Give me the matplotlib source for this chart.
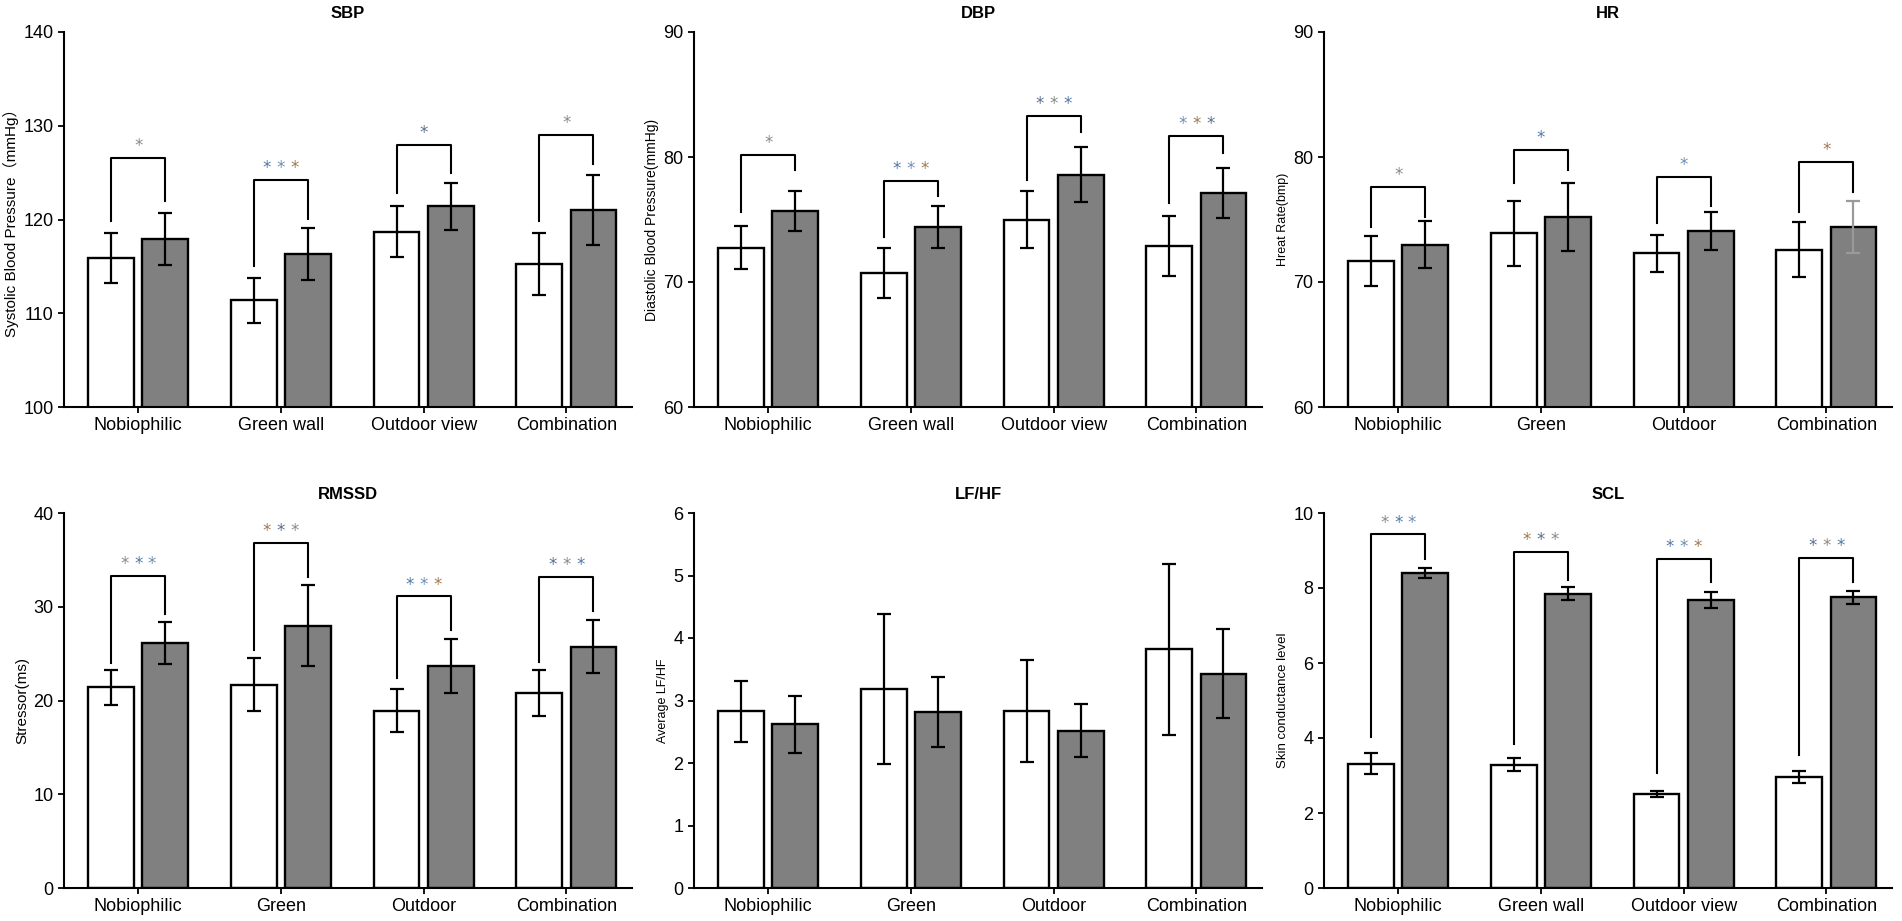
import matplotlib
matplotlib.use("Agg")
import matplotlib.pyplot as plt
import numpy as np

plt.rcParams['font.family'] = ['Liberation Sans', 'Noto Sans CJK SC', 'DejaVu Sans']

long_names = ["Nobiophilic", "Green wall", "Outdoor view", "Combination"]
short_names = ["Nobiophilic", "Green", "Outdoor", "Combination"]

# SBP
sbp_white = [115.9, 111.4, 118.7, 115.3]
sbp_white_err = [2.7, 2.4, 2.7, 3.3]
sbp_grey = [117.9, 116.3, 121.4, 121.0]
sbp_grey_err = [2.8, 2.8, 2.5, 3.7]
# bracket: top, left leg end, right leg end
sbp_brackets = [[126.6, 119.8, 122.0], [124.2, 115.0, 120.1], [128.0, 122.8, 125.0], [129.0, 119.8, 125.9]]
sbp_stars = [1, 3, 1, 1]

# DBP
dbp_white = [72.75, 70.7, 75.0, 72.9]
dbp_white_err = [1.7, 2.0, 2.3, 2.4]
dbp_grey = [75.7, 74.4, 78.6, 77.1]
dbp_grey_err = [1.6, 1.7, 2.2, 2.0]
dbp_brackets = [[80.2, 75.6, 79.0], [78.1, 73.6, 76.9], [83.3, 78.2, 82.0], [81.7, 76.3, 80.3]]
dbp_stars = [1, 3, 3, 3]

# HR
hr_white = [71.7, 73.9, 72.3, 72.6]
hr_white_err = [2.0, 2.6, 1.5, 2.2]
hr_grey = [73.0, 75.2, 74.1, 74.4]
hr_grey_err = [1.9, 2.7, 1.5, 2.1]
hr_brackets = [[77.6, 74.4, 75.2], [80.6, 77.9, 79.0], [78.4, 74.7, 76.1], [79.6, 75.6, 77.2]]
hr_stars = [1, 1, 1, 1]

# RMSSD
rmssd_white = [21.4, 21.7, 18.9, 20.8]
rmssd_white_err = [1.85, 2.8, 2.3, 2.5]
rmssd_grey = [26.1, 28.0, 23.7, 25.75]
rmssd_grey_err = [2.25, 4.3, 2.85, 2.85]
rmssd_brackets = [[33.3, 24.0, 29.2], [36.8, 25.4, 33.2], [31.1, 22.4, 27.5], [33.2, 24.1, 29.5]]
rmssd_stars = [3, 3, 3, 3]

# LF/HF
lfhf_white = [2.83, 3.19, 2.83, 3.82]
lfhf_white_err = [0.49, 1.2, 0.82, 1.37]
lfhf_grey = [2.62, 2.81, 2.52, 3.43]
lfhf_grey_err = [0.46, 0.56, 0.42, 0.71]

# SCL
scl_white = [3.32, 3.29, 2.52, 2.97]
scl_white_err = [0.29, 0.18, 0.08, 0.16]
scl_grey = [8.40, 7.85, 7.69, 7.75]
scl_grey_err = [0.13, 0.18, 0.21, 0.17]
scl_brackets = [[9.43, 4.02, 8.77], [8.96, 3.84, 8.22], [8.77, 3.08, 8.15], [8.80, 3.54, 8.17]]
scl_stars = [3, 3, 3, 3]

star_colors = ['#8a8a80', '#4f78a8', '#6f8fb3', '#a07850', '#5a6f8f']

W, H = 1902, 921
fig = plt.figure(figsize=(W / 100, H / 100), dpi=100)


def make_axes(col, row):
    lefts = [64, 694, 1324]
    tops = [32, 513]
    bottoms = [407, 888]
    x0 = lefts[col] / W
    y0 = 1 - bottoms[row] / H
    h = (bottoms[row] - tops[row]) / H
    return fig.add_axes([x0, y0, 568 / W, h])


def panel(ax, title, ylabel, ylsize, white, werr, grey, gerr, ylim, yticks, names,
          brackets=None, stars=None, gcolor=None):
    x = np.arange(4)
    off, bw = 0.19, 0.32
    ax.bar(x - off, white, bw, color='white', edgecolor='black', linewidth=1.7, zorder=2)
    ax.bar(x + off, grey, bw, color='#808080', edgecolor='black', linewidth=1.7, zorder=2)
    ax.errorbar(x - off, white, yerr=werr, fmt='none', ecolor='black', elinewidth=1.6,
                capsize=5, capthick=1.6, zorder=3)
    ecols = gcolor if gcolor else ['black'] * 4
    for i in range(4):
        ax.errorbar(x[i] + off, grey[i], yerr=gerr[i], fmt='none', ecolor=ecols[i],
                    elinewidth=1.6, capsize=5, capthick=1.6, zorder=3)
    if brackets:
        k = 0
        for i, (top, le, re) in enumerate(brackets):
            ax.plot([x[i] - off, x[i] - off, x[i] + off, x[i] + off], [le, top, top, re],
                    color='black', linewidth=1.5, zorder=3)
            n = stars[i]
            for j in range(n):
                ax.annotate('*', (x[i], top), xytext=((j - (n - 1) / 2) * 10, 2),
                            textcoords='offset points', ha='center', va='bottom',
                            fontsize=12, color=star_colors[k % len(star_colors)],
                            family='DejaVu Sans')
                k += 1
    ax.set_xlim(-0.52, 3.46)
    ax.set_ylim(*ylim)
    ax.set_yticks(yticks)
    ax.set_xticks(x)
    ax.set_xticklabels(names)
    ax.spines['top'].set_visible(False)
    ax.spines['right'].set_visible(False)
    ax.spines['left'].set_linewidth(1.5)
    ax.spines['bottom'].set_linewidth(1.5)
    ax.tick_params(axis='both', labelsize=13, width=1.3, length=4)
    ax.set_title(title, fontsize=12, fontweight='bold', pad=10)
    ax.set_ylabel(ylabel, fontsize=ylsize, labelpad=3)


ax = make_axes(0, 0)
panel(ax, 'SBP', 'Systolic Blood Pressure（mmHg）', 11, sbp_white, sbp_white_err, sbp_grey,
      sbp_grey_err, (100, 140), [100, 110, 120, 130, 140], long_names, sbp_brackets, sbp_stars)

ax = make_axes(1, 0)
panel(ax, 'DBP', 'Diastolic Blood Pressure(mmHg)', 10, dbp_white, dbp_white_err, dbp_grey,
      dbp_grey_err, (60, 90), [60, 70, 80, 90], long_names, dbp_brackets, dbp_stars)

ax = make_axes(2, 0)
panel(ax, 'HR', 'Hreat Rate(bmp)', 9, hr_white, hr_white_err, hr_grey, hr_grey_err,
      (60, 90), [60, 70, 80, 90], short_names, hr_brackets, hr_stars,
      gcolor=['black', 'black', 'black', '#9a9a9a'])

ax = make_axes(0, 1)
panel(ax, 'RMSSD', 'Stressor(ms)', 11, rmssd_white, rmssd_white_err, rmssd_grey,
      rmssd_grey_err, (0, 40), [0, 10, 20, 30, 40], short_names, rmssd_brackets, rmssd_stars)

ax = make_axes(1, 1)
panel(ax, 'LF/HF', 'Average LF/HF', 9, lfhf_white, lfhf_white_err, lfhf_grey,
      lfhf_grey_err, (0, 6), [0, 1, 2, 3, 4, 5, 6], short_names)

ax = make_axes(2, 1)
panel(ax, 'SCL', 'Skin conductance level', 9.5, scl_white, scl_white_err, scl_grey,
      scl_grey_err, (0, 10), [0, 2, 4, 6, 8, 10], long_names, scl_brackets, scl_stars)

fig.savefig('out.png', dpi=100)
